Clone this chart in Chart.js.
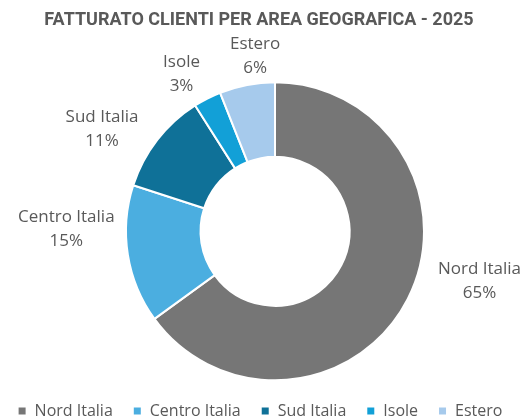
<!DOCTYPE html>
<html>
<head>
<meta charset="utf-8">
<script src="https://cdn.jsdelivr.net/npm/chart.js@4.4.1/dist/chart.umd.min.js"></script>
<style>
  html, body { margin: 0; padding: 0; background: #ffffff; }
  #wrap { width: 528px; height: 418px; position: relative; }
</style>
</head>
<body>
<div id="wrap"><canvas id="c" width="528" height="418"></canvas></div>
<script>
const chartTitle = 'FATTURATO CLIENTI PER AREA GEOGRAFICA - 2025';
const categories = ['Nord Italia', 'Centro Italia', 'Sud Italia', 'Isole', 'Estero'];
const shares = [65, 15, 11, 3, 6];
const sliceColors = ['#767676', '#4BAEE0', '#0F7198', '#12A0D7', '#A6CAEC'];

// label placement tweaks (pixel nudges per slice, applied after geometric placement)
const labelNudges = [[24, -34], [-2, -31], [-17, 11], [-12, 8], [15, 7]];

const TITLE_FONT = 'Roboto, "Liberation Sans", sans-serif';
const FONT = '"Open Sans", Roboto, sans-serif';

const layoutShift = {
  id: 'layoutShift',
  afterLayout(chart) {
    chart.chartArea.left += 22;
    if (chart.titleBlock) chart.titleBlock.left -= 10;
    if (chart.legend) { chart.legend.left -= 8; }
  }
};

const outsideLabels = {
  id: 'outsideLabels',
  afterDatasetsDraw(chart) {
    const ctx = chart.ctx;
    const meta = chart.getDatasetMeta(0);
    ctx.save();
    ctx.font = '17px ' + FONT;
    ctx.fillStyle = '#595959';
    ctx.textAlign = 'center';
    ctx.textBaseline = 'middle';
    const lineH = 24;
    meta.data.forEach((arc, i) => {
      const p = arc.getProps(['x', 'y', 'startAngle', 'endAngle', 'outerRadius'], true);
      const mid = (p.startAngle + p.endAngle) / 2;
      const dx = Math.cos(mid), dy = Math.sin(mid);
      const l1 = categories[i];
      const l2 = shares[i] + '%';
      const w = Math.max(ctx.measureText(l1).width, ctx.measureText(l2).width);
      const hw = w / 2, hh = lineH;
      const r = p.outerRadius + 12;
      let cx = p.x + dx * r + dx * hw + labelNudges[i][0];
      let cy = p.y + dy * r + dy * hh + labelNudges[i][1];
      ctx.fillText(l1, cx, cy - lineH / 2);
      ctx.fillText(l2, cx, cy + lineH / 2);
    });
    ctx.restore();
  }
};

new Chart(document.getElementById('c'), {
  type: 'doughnut',
  data: {
    labels: categories,
    datasets: [{
      data: shares,
      backgroundColor: sliceColors,
      borderColor: '#ffffff',
      borderWidth: 2,
      radius: 149
    }]
  },
  options: {
    responsive: false,
    animation: false,
    cutout: '50%',
    layout: { padding: { left: 0, right: 0, top: 0, bottom: -11 } },
    plugins: {
      title: {
        display: true,
        text: chartTitle,
        color: '#595959',
        font: { family: TITLE_FONT, size: 18, weight: 'bold' },
        padding: { top: 10, bottom: 48 }
      },
      legend: {
        position: 'bottom',
        labels: {
          color: '#595959',
          font: { family: FONT, size: 16 },
          boxWidth: 9,
          boxHeight: 9,
          padding: 20
        }
      },
      tooltip: { enabled: false }
    }
  },
  plugins: [layoutShift, outsideLabels]
});
</script>
</body>
</html>
